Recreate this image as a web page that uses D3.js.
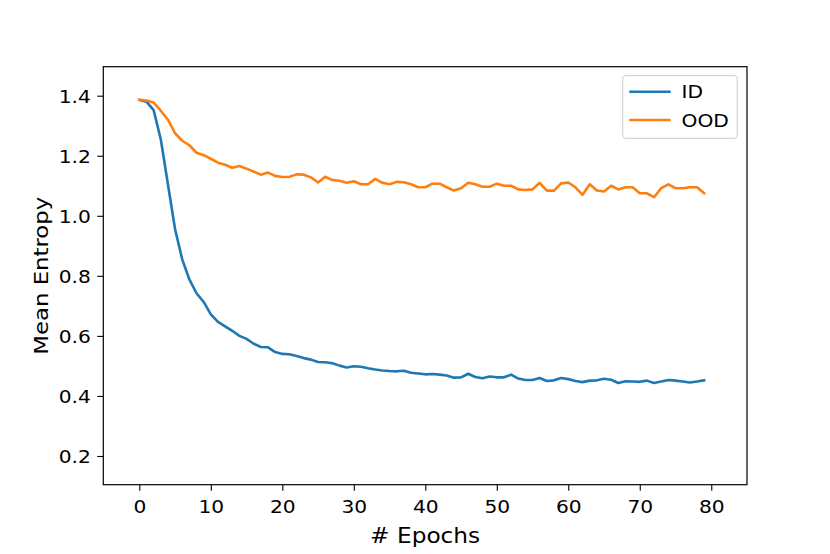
<!DOCTYPE html>
<html><head><meta charset="utf-8">
<script src="https://cdn.jsdelivr.net/npm/d3@7"></script>
<style>
body{margin:0;background:#fff}
svg{display:block}
text{font-family:"DejaVu Sans",sans-serif;fill:#000}
</style></head>
<body><svg id="c" width="830" height="554"></svg>
<script>
// ---- data ----
const seriesNames = ["ID", "OOD"];
const idValues = [1.386,1.380,1.352,1.255,1.105,0.955,0.855,0.788,0.742,0.713,
  0.672,0.647,0.632,0.617,0.600,0.590,0.574,0.563,0.562,0.546,
  0.540,0.539,0.533,0.526,0.521,0.513,0.512,0.509,0.501,0.495,
  0.499,0.497,0.492,0.488,0.485,0.483,0.482,0.484,0.477,0.475,
  0.472,0.473,0.471,0.468,0.461,0.462,0.474,0.463,0.459,0.465,
  0.462,0.462,0.471,0.458,0.453,0.453,0.460,0.450,0.452,0.460,
  0.456,0.450,0.446,0.451,0.452,0.457,0.454,0.443,0.449,0.448,
  0.447,0.451,0.443,0.448,0.453,0.451,0.448,0.445,0.448,0.452];
const oodValues = [1.386,1.384,1.377,1.350,1.320,1.275,1.250,1.235,1.210,1.202,
  1.190,1.177,1.170,1.160,1.166,1.157,1.147,1.137,1.144,1.133,
  1.129,1.130,1.138,1.137,1.128,1.111,1.130,1.119,1.117,1.110,
  1.115,1.105,1.105,1.123,1.110,1.105,1.113,1.112,1.105,1.095,
  1.095,1.107,1.107,1.095,1.084,1.092,1.110,1.105,1.097,1.097,
  1.107,1.100,1.100,1.088,1.086,1.088,1.110,1.084,1.084,1.108,
  1.111,1.095,1.070,1.105,1.084,1.081,1.100,1.088,1.095,1.095,
  1.075,1.075,1.062,1.092,1.105,1.092,1.092,1.095,1.095,1.075];
const epochs = d3.range(idValues.length);
const xTicks = [0,10,20,30,40,50,60,70,80];
const yTicks = [0.2,0.4,0.6,0.8,1.0,1.2,1.4];
const xLabel = "# Epochs";
const yLabel = "Mean Entropy";
const colors = ["#1f77b4", "#ff7f0e"];

// ---- layout ----
const L = 103.3, R = 747, T = 66.7, B = 484.7;
const SX = 1.124;
const svg = d3.select("#c");
svg.append("rect").attr("width",830).attr("height",554).attr("fill","#fff");

const x = d3.scaleLinear().domain([-5.04, 85.0]).range([L, R]);
const y = d3.scaleLinear().domain([0.1044, 1.4966]).range([B, T]);

const line = d3.line().x((d,i)=>x(epochs[i])).y(d=>y(d));
[idValues, oodValues].forEach((vals, k) => {
  svg.append("path").datum(vals)
    .attr("d", line).attr("fill","none")
    .attr("stroke", colors[k]).attr("stroke-width", 2.6)
    .attr("stroke-linejoin","round").attr("stroke-linecap","square");
});

// axes
const gx = svg.append("g").attr("transform",`translate(0,${B})`)
  .call(d3.axisBottom(x).tickValues(xTicks).tickSize(6).tickFormat(d3.format("d")));
gx.select(".domain").remove();
gx.selectAll(".tick line").attr("stroke","#000").attr("stroke-width",1.1);
gx.selectAll(".tick text").attr("font-size",18).attr("font-family","DejaVu Sans")
  .attr("fill","#000").attr("y",28.6).attr("dy",0)
  .attr("transform",`scale(${SX},1)`);

const gy = svg.append("g").attr("transform",`translate(${L},0)`)
  .call(d3.axisLeft(y).tickValues(yTicks).tickSize(6).tickFormat(d3.format(".1f")));
gy.select(".domain").remove();
gy.selectAll(".tick line").attr("stroke","#000").attr("stroke-width",1.1);
gy.selectAll(".tick text").attr("font-size",18).attr("font-family","DejaVu Sans")
  .attr("fill","#000").attr("x",-12.4/SX).attr("dy","0.36em")
  .attr("transform",`scale(${SX},1)`);

// frame
svg.append("rect").attr("x",L).attr("y",T).attr("width",R-L).attr("height",B-T)
  .attr("fill","none").attr("stroke","#000").attr("stroke-width",1.2);

// axis labels
svg.append("text").attr("transform",`translate(${(L+R)/2},542.7) scale(1.14,1)`)
  .attr("text-anchor","middle").attr("font-size",20.4).text(xLabel);
svg.append("text").attr("transform",`translate(47.7,${(T+B)/2}) rotate(-90) scale(1.14,1)`)
  .attr("text-anchor","middle").attr("font-size",20).text(yLabel);

// legend
const lg = svg.append("g");
lg.append("rect").attr("x",622.7).attr("y",75.7).attr("width",114.6).attr("height",62.6)
  .attr("rx",3).attr("fill","#fff").attr("fill-opacity",0.8)
  .attr("stroke","#cccccc").attr("stroke-width",1);
const legY = [91.7, 120];
seriesNames.forEach((n,k)=>{
  lg.append("line").attr("x1",629.3).attr("x2",670.7).attr("y1",legY[k]).attr("y2",legY[k])
    .attr("stroke",colors[k]).attr("stroke-width",2.6);
  lg.append("text").attr("transform",`translate(681.5,${legY[k]+6.6}) scale(${SX},1)`)
    .attr("font-size",18).text(n);
});
</script></body></html>
